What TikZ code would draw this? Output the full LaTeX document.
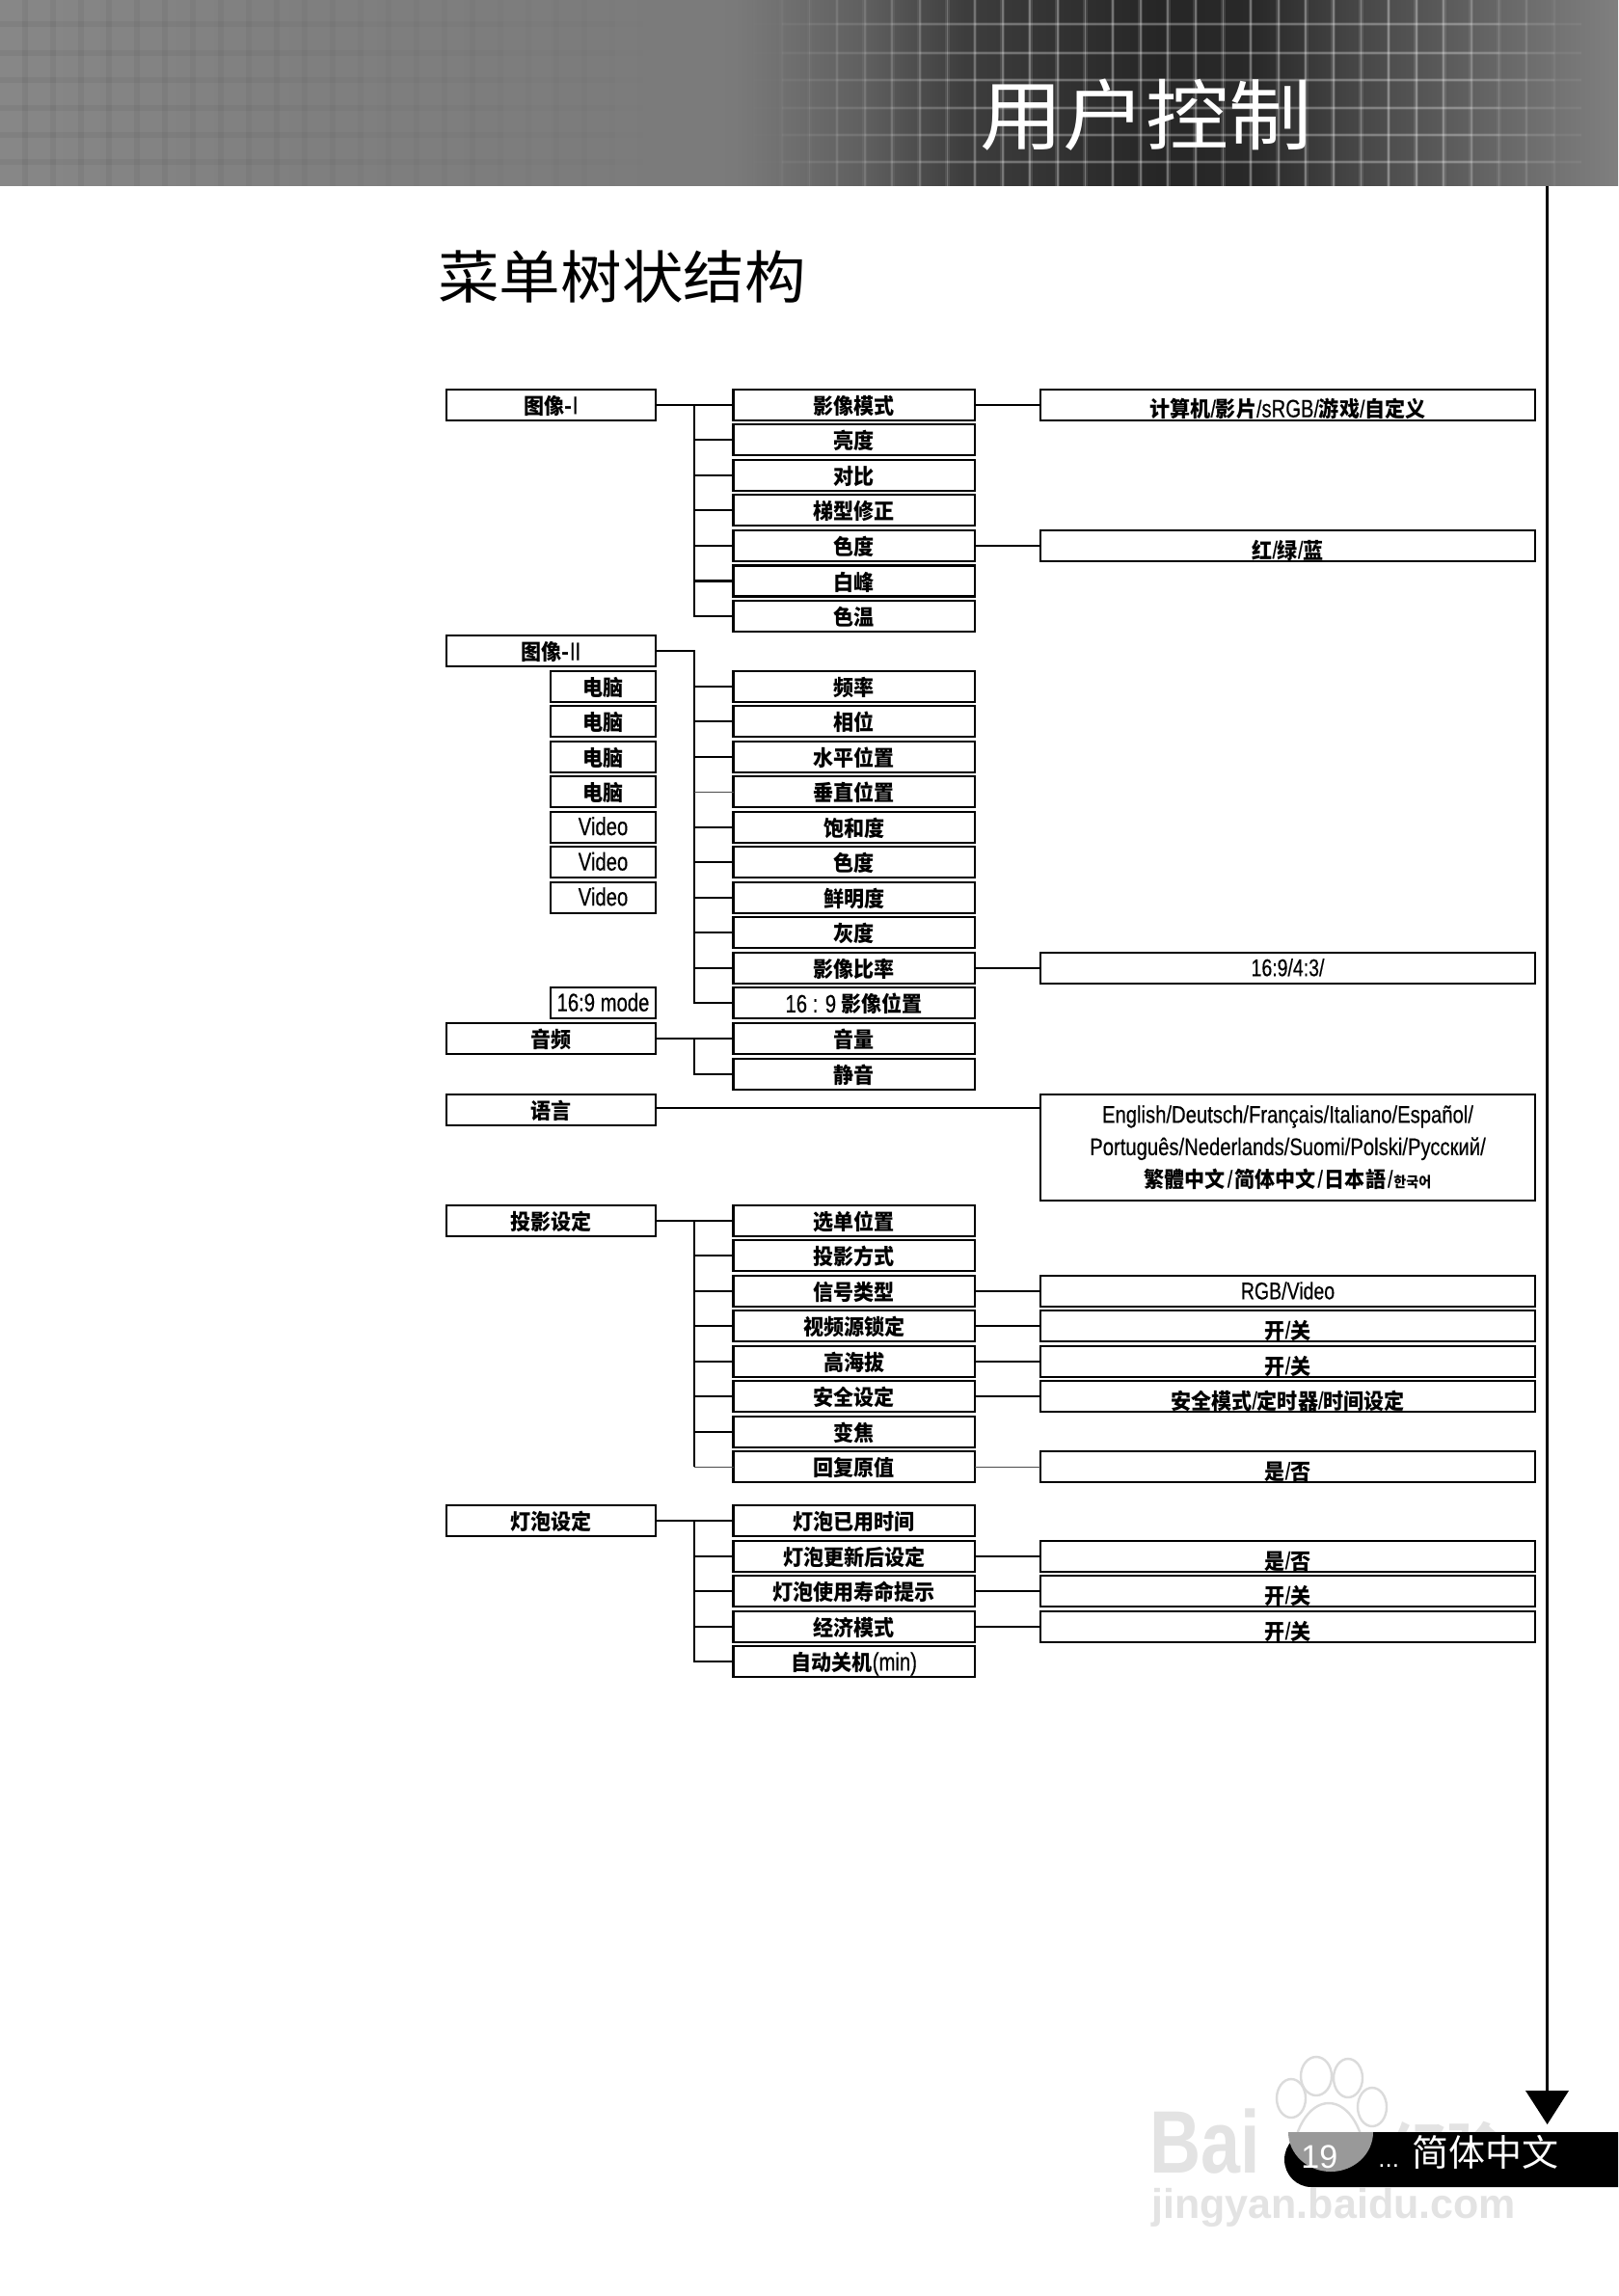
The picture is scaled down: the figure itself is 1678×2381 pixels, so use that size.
\documentclass[tikz,border=0pt]{standalone}
\usepackage{graphicx}
\usepackage{fontspec}
\setmainfont{Noto Sans CJK SC}
\newfontfamily\boxf{Noto Sans CJK SC}[FakeStretch=0.94]
\newfontfamily\latf{Liberation Sans}
\newfontfamily\latg{Liberation Sans}[FakeBold=0.35]
\newcommand\latn[1]{\scalebox{0.78}[1]{\latg\mdseries #1}}
\newcommand\latw[1]{\scalebox{0.81}[1]{\latg\mdseries #1}}
\newcommand\latm[1]{\latn{\fontsize{13}{15}\selectfont #1}}
\newcommand\slh{\latn{\fontsize{12.5}{14}\selectfont /}}
\pgfdeclarehorizontalshading{banshade}{100bp}{
 rgb(0bp)=(.53,.53,.53);rgb(25bp)=(.53,.53,.53);rgb(33.94bp)=(.5,.5,.5);rgb(47.65bp)=(.48,.48,.48);
 rgb(51.82bp)=(.37,.37,.37);rgb(54.8bp)=(.24,.24,.24);rgb(60.76bp)=(.15,.15,.15);rgb(63.74bp)=(.16,.16,.16);
 rgb(66.72bp)=(.27,.27,.27);rgb(71.19bp)=(.4,.4,.4);rgb(75bp)=(.5,.5,.5);rgb(100bp)=(.5,.5,.5)}
\tikzset{
 boxbase/.style={draw=black,line width=1.05pt,fill=white,minimum height=16pt,inner sep=0pt,outer sep=0pt,font=\boxf\fontsize{11.2}{13}\selectfont\bfseries,text height=9.6pt,text depth=0pt},
 topbox/.style={boxbase,minimum width=108.5pt},
 subbox/.style={boxbase,minimum width=54.5pt},
 midbox/.style={boxbase,minimum width=125.25pt},
 optbox/.style={boxbase,minimum width=256.5pt,text height=13pt},
 latinopt/.style={text height=8.4pt,font=\fontsize{12.5}{14}\selectfont},
 videotxt/.style={text height=8.3pt,font=\fontsize{13}{15}\selectfont},
 wire/.style={line width=1.05pt,draw=black},
 trunk/.style={line width=0.85pt,draw=black},
 thinwire/.style={line width=0.45pt,draw=black!70},
}
\begin{document}
\begin{tikzpicture}[x=0.5pt,y=-0.5pt]
\useasboundingbox (0,0) rectangle (1678,2381);
\fill[white] (0,0) rectangle (1678,2381);
% banner
\shade[shading=banshade] (0,0) rectangle (1678,193);
\begin{scope}
\clip (0,0) rectangle (1678,193);
\foreach \i in {1,...,22}{
 \pgfmathsetmacro\xx{\i*29-3}
 \pgfmathsetmacro\oo{0.008+0.04*(1-\i/23)}
 \draw[black,opacity=\oo,line width=3pt] (\xx,0) -- (\xx,193);
}
\foreach \yy in {25,55,83,112,140,168}{
 \foreach \i in {0,...,22}{
  \pgfmathsetmacro\xa{\i*29}
  \pgfmathsetmacro\oo{0.008+0.04*(1-\i/23)}
  \draw[black,opacity=\oo,line width=3pt] (\xa,\yy) -- ++(29,0);
 }
}
\foreach \i in {27,...,56}{
 \pgfmathsetmacro\xx{\i*28.6+10}
 \pgfmathsetmacro\oo{min(0.27,max(0.01,min((\xx-770)/1100,(1640-\xx)/600)))}
 \pgfmathsetmacro\op{0.4*\oo}
 \draw[white,opacity=\op,line width=2.4pt] (\xx,0) -- (\xx,193);
 \draw[white,opacity=\oo,line width=0.9pt] (\xx,0) -- (\xx,193);
}
\foreach \yy in {25,55,83,112,140,168}{
 \foreach \i in {27,...,56}{
  \pgfmathsetmacro\xa{\i*28.6+10}
  \pgfmathsetmacro\oo{min(0.24,max(0.01,min((\xa-770)/1100,(1640-\xa)/600)))}
  \pgfmathsetmacro\op{0.4*\oo}
  \draw[white,opacity=\op,line width=2.4pt] (\xa,\yy) -- ++(28.6,0);
  \draw[white,opacity=\oo,line width=0.9pt] (\xa,\yy) -- ++(28.6,0);
 }
}
\end{scope}
\node[text=white,inner sep=0pt,font=\fontsize{43}{46}\selectfont] (bannertitle) at (1188,119) {\scalebox{1}[0.93]{用户控制}};
\node[inner sep=0pt,font=\fontsize{31.8}{34}\selectfont] (pagetitle) at (645,287) {\scalebox{1}[0.93]{菜单树状结构}};
% side line and arrow
\coordinate (lineTop) at (1604.6,193);
\coordinate (lineEnd) at (1604.6,2170);
\draw[line width=1.4pt] (lineTop) -- (lineEnd);
\fill[black] (1582,2168) -- (1627,2168) -- (1604.6,2203) -- cycle;
% watermark
\foreach \cx/\cy/\rx/\ry in {1365/2153/16/20,1398/2155/15/20,1339/2176/15/20,1423/2185/15/20}{
 \draw[black!14,line width=1.2pt,fill=white] (\cx,\cy) ellipse ({\rx} and {\ry});
}
\node[inner sep=0pt,text=black!11,font=\fontsize{46}{50}\selectfont\bfseries,anchor=base west] (wmbai) at (1192,2253) {\scalebox{0.8}[1]{\latf Bai}};
\node[inner sep=0pt,text=black!11,font=\fontsize{29}{32}\selectfont\bfseries,anchor=base west] (wmjy) at (1443,2250) {经验};
\begin{scope}
\clip (1300,2150) rectangle (1460,2211);
\draw[black!14,line width=1.2pt,fill=white] (1378,2245) ellipse (38 and 64);
\end{scope}
\node[inner sep=0pt,text=black!11,font=\fontsize{21.5}{24}\selectfont\bfseries,anchor=base west] (wmurl) at (1194,2300) {\latf jingyan.baidu.com};
% footer
\fill[black] (1678,2211) -- (1360,2211) arc[start angle=90,end angle=270,x radius=28,y radius=-28.5] -- (1678,2268) -- cycle;
\begin{scope}
\clip (1332,2211) rectangle (1440,2253);
\fill[black!40] (1380,2211) ellipse (44 and 41);
\end{scope}
\node[text=white,inner sep=0pt,anchor=base west,font=\fontsize{17}{19}\selectfont] (pagenum) at (1349,2248) {\latf 19};
\node[text=white,inner sep=0pt,anchor=base west,font=\fontsize{13}{15}\selectfont] (pagedots) at (1429,2247) {\latf ...};
\node[text=white,inner sep=0pt,font=\fontsize{19}{22}\selectfont] (pagelang) at (1540,2232) {简体中文};
% column 1
\node[topbox] (img1) at (571.5,419.7) {图像-\latm{I}};
\node[topbox] (img2) at (571.5,675) {图像-\latm{II}};
\node[topbox] (audio) at (571.5,1077) {音频};
\node[topbox] (lang) at (571.5,1151) {语言};
\node[topbox] (proj) at (571.5,1265.7) {投影设定};
\node[topbox] (lamp) at (571.5,1577) {灯泡设定};
% sub column
\node[subbox] (s1) at (625.5,711.7) {电脑};
\node[subbox] (s2) at (625.5,748.2) {电脑};
\node[subbox] (s3) at (625.5,784.7) {电脑};
\node[subbox] (s4) at (625.5,821.3) {电脑};
\node[subbox,videotxt] (s5) at (625.5,857.7) {\latn{Video}};
\node[subbox,videotxt] (s6) at (625.5,894.3) {\latn{Video}};
\node[subbox,videotxt] (s7) at (625.5,930.8) {\latn{Video}};
\node[subbox,videotxt] (s8) at (625.5,1040.3) {\latn{16:9 mode}};
% column 2, group 1
\node[midbox] (a1) at (885.75,419.7) {影像模式};
\node[midbox] (a2) at (885.75,456) {亮度};
\node[midbox] (a3) at (885.75,493) {对比};
\node[midbox] (a4) at (885.75,529) {梯型修正};
\node[midbox] (a5) at (885.75,566) {色度};
\node[midbox] (a6) at (885.75,602.5) {白峰};
\node[midbox] (a7) at (885.75,639) {色温};
% group 2
\node[midbox] (b1) at (885.75,711.7) {频率};
\node[midbox] (b2) at (885.75,748.2) {相位};
\node[midbox] (b3) at (885.75,784.7) {水平位置};
\node[midbox] (b4) at (885.75,821.3) {垂直位置};
\node[midbox] (b5) at (885.75,857.7) {饱和度};
\node[midbox] (b6) at (885.75,894.3) {色度};
\node[midbox] (b7) at (885.75,930.8) {鲜明度};
\node[midbox] (b8) at (885.75,967.3) {灰度};
\node[midbox] (b9) at (885.75,1003.8) {影像比率};
\node[midbox] (b10) at (885.75,1040.3) {\latm{16 : 9 }影像位置};
% audio
\node[midbox] (c1) at (885.75,1077) {音量};
\node[midbox] (c2) at (885.75,1113.7) {静音};
% projection
\node[midbox] (d1) at (885.75,1265.7) {选单位置};
\node[midbox] (d2) at (885.75,1301.7) {投影方式};
\node[midbox] (d3) at (885.75,1339) {信号类型};
\node[midbox] (d4) at (885.75,1375) {视频源锁定};
\node[midbox] (d5) at (885.75,1412) {高海拔};
\node[midbox] (d6) at (885.75,1448) {安全设定};
\node[midbox] (d7) at (885.75,1485) {变焦};
\node[midbox] (d8) at (885.75,1521.3) {回复原值};
% lamp
\node[midbox] (e1) at (885.75,1577) {灯泡已用时间};
\node[midbox] (e2) at (885.75,1614) {灯泡更新后设定};
\node[midbox] (e3) at (885.75,1650) {灯泡使用寿命提示};
\node[midbox] (e4) at (885.75,1687) {经济模式};
\node[midbox] (e5) at (885.75,1722.7) {自动关机\latm{(min)}};
% column 3
\node[optbox] (oa1) at (1335.5,419.7) {计算机\slh 影片\slh\latm{sRGB}\slh 游戏\slh 自定义};
\node[optbox] (oa5) at (1335.5,566) {红\slh 绿\slh 蓝};
\node[optbox,latinopt] (ob9) at (1335.5,1003.8) {\latn{16:9/4:3/}};
\node[optbox,minimum height=55pt,text height=,text depth=,align=center,font=\fontsize{12.5}{16.75}\selectfont\bfseries] (olang) at (1335.5,1190) {\latw{English/Deutsch/Français/Italiano/Español/}\\\latw{Português/Nederlands/Suomi/Polski/Русский/}\\{\boxf\fontsize{11.2}{16.75}\selectfont 繁體中文\kern1pt\slh\kern1pt 简体中文\kern1pt\slh\kern1pt 日本語\kern1pt\slh\kern.5pt{\fontsize{7.5}{8}\selectfont 한국어}}};
\node[optbox,latinopt] (od3) at (1335.5,1339) {\latn{RGB/Video}};
\node[optbox] (od4) at (1335.5,1375) {开\slh 关};
\node[optbox] (od5) at (1335.5,1412) {开\slh 关};
\node[optbox] (od6) at (1335.5,1448) {安全模式\slh 定时器\slh 时间设定};
\node[optbox] (od8) at (1335.5,1521.3) {是\slh 否};
\node[optbox] (oe2) at (1335.5,1614) {是\slh 否};
\node[optbox] (oe3) at (1335.5,1650) {开\slh 关};
\node[optbox] (oe4) at (1335.5,1687) {开\slh 关};
% connectors
\coordinate (tx) at (720,0);
\coordinate (langy) at (0,1149.3);
\draw[wire] (img1.east) -- (a1.west);
\draw[trunk] (tx |- a1.west) -- (tx |- a7.west) -- (a7.west);
\foreach \n in {a2,a3,a4,a5,a6}{\draw[wire] (tx |- \n.west) -- (\n.west);}
\draw[trunk] (img2.east) -- (tx |- img2.east) -- (tx |- b10.west) -- (b10.west);
\foreach \n in {b1,b2,b3,b5,b6,b7,b8,b9}{\draw[wire] (tx |- \n.west) -- (\n.west);}
\draw[thinwire] (tx |- b4.west) -- (b4.west);
\draw[wire] (audio.east) -- (c1.west);
\draw[trunk] (tx |- c1.west) -- (tx |- c2.west) -- (c2.west);
\draw[trunk] (lang.east |- langy) -- (olang.west |- langy);
\draw[wire] (proj.east) -- (d1.west);
\draw[trunk] (tx |- d1.west) -- (tx |- d8.west);
\foreach \n in {d2,d3,d4,d5,d6,d7}{\draw[wire] (tx |- \n.west) -- (\n.west);}
\draw[thinwire] (tx |- d8.west) -- (d8.west);
\draw[wire] (lamp.east) -- (e1.west);
\draw[trunk] (tx |- e1.west) -- (tx |- e5.west) -- (e5.west);
\foreach \n in {e2,e3,e4}{\draw[wire] (tx |- \n.west) -- (\n.west);}
\draw[wire] (a1.east) -- (oa1.west);
\draw[wire] (a5.east) -- (oa5.west);
\draw[wire] (b9.east) -- (ob9.west);
\draw[wire] (d3.east) -- (od3.west);
\draw[wire] (d4.east) -- (od4.west);
\draw[wire] (d5.east) -- (od5.west);
\draw[wire] (d6.east) -- (od6.west);
\draw[thinwire] (d8.east) -- (od8.west);
\draw[wire] (e2.east) -- (oe2.west);
\draw[wire] (e3.east) -- (oe3.west);
\draw[wire] (e4.east) -- (oe4.west);
\end{tikzpicture}
\end{document}
